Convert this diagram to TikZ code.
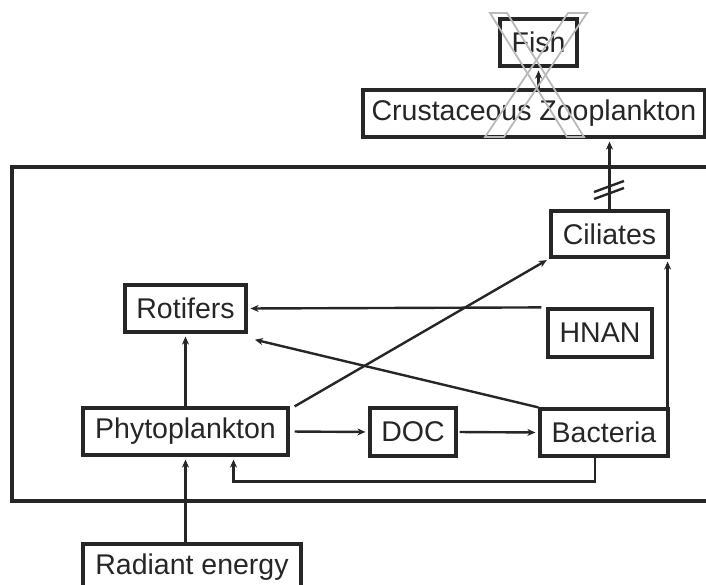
\documentclass[tikz,border=0pt]{standalone}
\usepackage{fontspec}
\setmainfont{Liberation Sans}
\usetikzlibrary{arrows.meta}
\begin{document}
\begin{tikzpicture}[x=1pt,y=-1pt,
  box/.style={draw=black!85, line width=3.2pt, inner sep=0pt, font=\fontsize{28.5}{34}\selectfont, text=black!85},
  arr/.style={draw=black!85, line width=2.4pt, -{Stealth[length=8pt,width=7pt,inset=2.5pt]}, shorten >=3pt},
  ln/.style={draw=black!85, line width=2.4pt},
  xband/.style={draw=gray!55, line width=1.8pt, line join=miter}]
\useasboundingbox (0,0) rectangle (706,585);
% enclosing frame (right side outside the picture)
\draw[draw=black!85, line width=3.2pt] (720,167) -- (12,167) -- (12,501) -- (720,501);
% nodes
\node[box, minimum width=77pt, minimum height=47pt] (Fish) at (538.5,42.5) {Fish};
\node[box, minimum width=342pt, minimum height=47pt] (Crust) at (534,113.5) {Crustaceous Zooplankton};
\node[box, minimum width=117pt, minimum height=46pt] (Cil) at (609.5,234) {Ciliates};
\node[box, minimum width=104pt, minimum height=48pt] (HNAN) at (600,333) {HNAN};
\node[box, minimum width=128pt, minimum height=47pt] (Bac) at (604,432.5) {Bacteria};
\node[box, minimum width=86pt, minimum height=48pt] (DOC) at (413,432) {DOC};
\node[box, minimum width=205pt, minimum height=47pt] (Phy) at (185.5,431.5) {Phytoplankton};
\node[box, minimum width=121pt, minimum height=47pt] (Rot) at (185.5,308.5) {Rotifers};
\node[box, minimum width=218pt, minimum height=47pt] (Rad) at (192,567.5) {Radiant energy};
\coordinate (rotin) at (252,339);
% connectors
\draw[arr] (Fish.south |- Crust.north) -- (Fish.south);
\draw[arr] (Cil.north) -- (Cil.north |- Crust.south);
\draw[ln] (594,192) -- (624,181);
\draw[ln] (594,199) -- (624,188);
\draw[arr] ([xshift=-2pt]Bac.north east) -- ([xshift=-2pt]Cil.south east);
\draw[arr] ([xshift=-5pt]HNAN.north west) -- (Rot.east);
\draw[arr] (Bac.north west) -- (rotin);
\draw[arr] (Phy.north) -- (Rot.south);
\draw[arr] ([xshift=5pt]Phy.north east) -- (Cil.south west);
\draw[arr, shorten <=5pt] (Phy.east) -- (DOC.west);
\draw[arr, shorten <=2pt] (DOC.east) -- (Bac.west);
\draw[arr] ([xshift=-9pt]Bac.south) -- ++(0,24) -| ([xshift=48pt]Phy.south);
\draw[arr] (Phy.south |- Rad.north) -- (Phy.south);
% crossing-out X over Fish
\draw[xband] (490,13) -- (507,13) -- (584,137) -- (567,137) -- cycle;
\draw[xband] (568,13) -- (587,13) -- (504,137) -- (485,137) -- cycle;
\end{tikzpicture}
\end{document}
